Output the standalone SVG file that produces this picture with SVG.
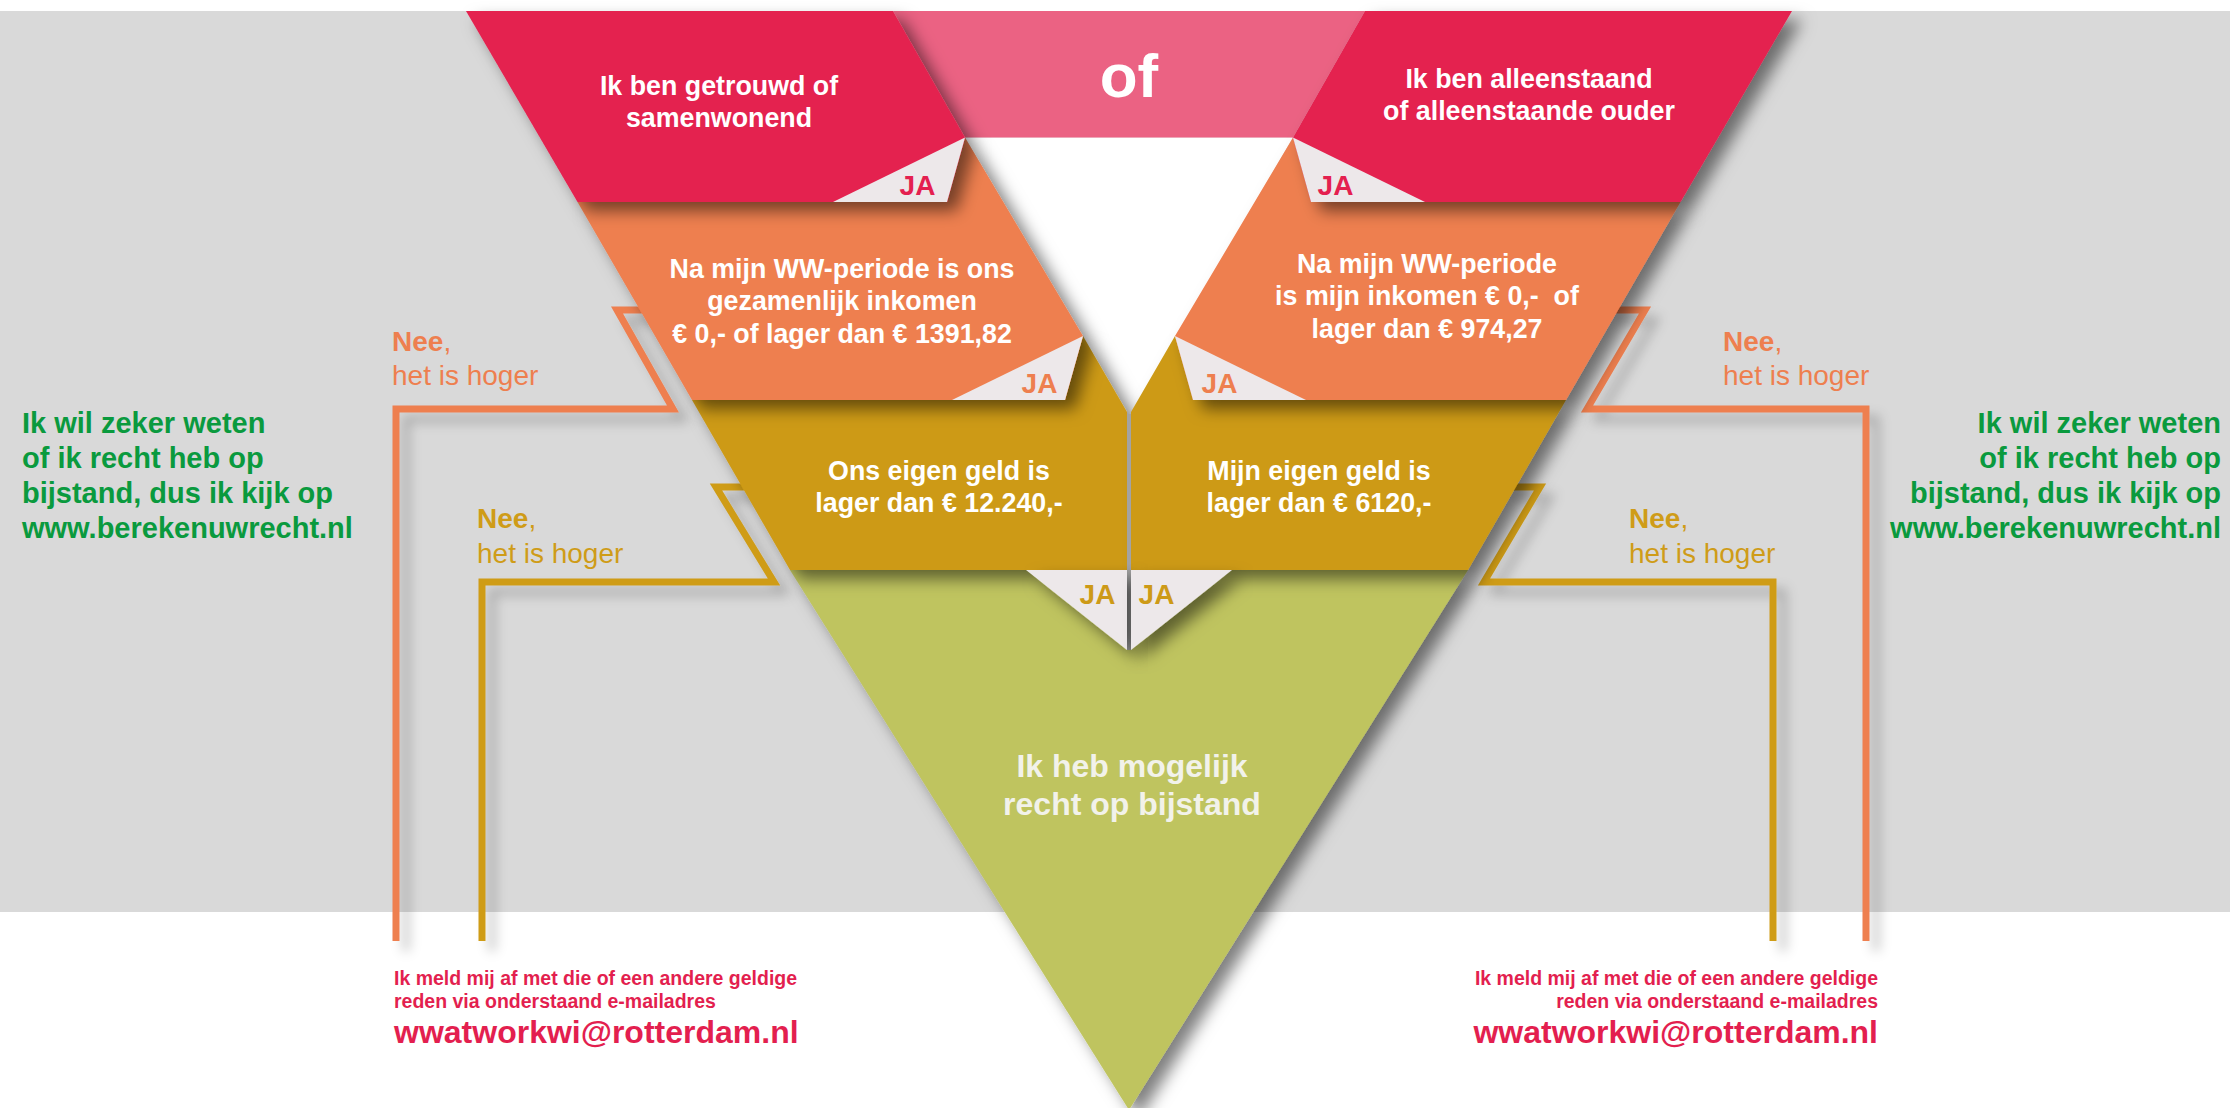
<svg xmlns="http://www.w3.org/2000/svg" width="2230" height="1108" viewBox="0 0 2230 1108">
<defs>
<filter id="bandShadow" x="-10%" y="-20%" width="130%" height="160%">
<feDropShadow dx="10" dy="9" stdDeviation="8" flood-color="#000" flood-opacity="0.5"/>
</filter>
<filter id="lineShadow" x="-30%" y="-10%" width="160%" height="130%">
<feDropShadow dx="10" dy="10" stdDeviation="6" flood-color="#000" flood-opacity="0.22"/>
</filter>
<style>
text{font-family:"Liberation Sans",Arial,Helvetica,sans-serif;}
.t{font-weight:bold;font-size:26.8px;fill:#ffffff;text-anchor:middle;white-space:pre;}
.ja{font-weight:bold;font-size:28px;text-anchor:middle;}
.nee{font-size:28px;}
.green{font-weight:bold;font-size:29px;fill:#0a9a3e;}
.small{font-weight:bold;font-size:19.5px;fill:#e31f4f;}
.mail{font-weight:bold;font-size:32px;fill:#e31f4f;}
.fold{fill:#ede8ea;}
.red{fill:#e4204f;}
.orange{fill:#ee7f4f;}
.mustard{fill:#cd9a17;}
.conn{fill:none;stroke-width:7;stroke-linejoin:miter;}
</style>
</defs>

<rect x="0" y="0" width="2230" height="1108" fill="#ffffff"/>
<rect x="0" y="11" width="2230" height="901" fill="#d9d9d9"/>

<g id="connectors" filter="url(#lineShadow)">
<polyline class="conn" stroke="#ee7f4f" points="648,310 617,310 673,409 396,409 396,941"/>
<polyline class="conn" stroke="#cf9c18" points="752,487 716,487 774,582 482,582 482,941"/>
<polyline class="conn" stroke="#ee7f4f" points="1610,310 1645,310 1587,409 1866,409 1866,941"/>
<polyline class="conn" stroke="#cf9c18" points="1505,487 1540,487 1484,582 1773,582 1773,941"/>
</g>

<polygon id="inner-white" points="965,137.5 1293,137.5 1129,418" fill="#ffffff"/>

<g id="node-of">
<polygon points="893,11 1365,11 1293,137.5 965,137.5" fill="#eb6283"/>
<text x="1129" y="97" style="font-weight:bold;font-size:62px;fill:#ffffff;text-anchor:middle;">of</text>
</g>

<g id="node-result">
<polygon points="790,570 1468,570 1129,1110" fill="#bfc45f" filter="url(#bandShadow)"/>
<text class="t" x="1132" y="777" style="font-size:32px;fill:#f2f2ea;">Ik heb mogelijk</text>
<text class="t" x="1132" y="815" style="font-size:32px;fill:#f2f2ea;">recht op bijstand</text>
</g>

<g id="node-eigen-geld-left">
<polygon class="mustard" points="692,400 1065,400 1083,336 1127,412 1127,570 790,570" filter="url(#bandShadow)"/>
</g>
<g id="node-eigen-geld-right">
<polygon class="mustard" points="1566,400 1193,400 1175,336 1131,412 1131,570 1468,570" filter="url(#bandShadow)"/>
</g>
<rect x="1127" y="414" width="4" height="236" fill="#a3a3a3"/>
<g id="ja-bottom">
<polygon class="fold" points="1026,570 1127,570 1127,650" filter="url(#bandShadow)"/>
<polygon class="fold" points="1131,570 1232,570 1131,650" filter="url(#bandShadow)"/>
<text class="ja" x="1097.5" y="604" fill="#cd9a17">JA</text>
<text class="ja" x="1156.5" y="604" fill="#cd9a17">JA</text>
</g>

<g id="node-inkomen-left">
<polygon class="orange" points="577.5,202 947,202 965,137.5 1083,336 1065,400 692,400" filter="url(#bandShadow)"/>
<polygon class="fold" points="952,400 1083,336 1065,400"/>
<text class="ja" x="1039.5" y="393" fill="#ee7f4f">JA</text>
</g>
<g id="node-inkomen-right">
<polygon class="orange" points="1680.5,202 1311,202 1293,137.5 1175,336 1193,400 1566,400" filter="url(#bandShadow)"/>
<polygon class="fold" points="1306,400 1175,336 1193,400"/>
<text class="ja" x="1219.5" y="393" fill="#ee7f4f">JA</text>
</g>

<g id="node-getrouwd">
<polygon class="red" points="466,11 893,11 965,137.5 947,202 577.5,202" filter="url(#bandShadow)"/>
<polygon class="fold" points="833,202 965,137.5 947,202"/>
<text class="ja" x="917.5" y="195" fill="#e4204f">JA</text>
</g>
<g id="node-alleenstaand">
<polygon class="red" points="1792,11 1365,11 1293,137.5 1311,202 1680.5,202" filter="url(#bandShadow)"/>
<polygon class="fold" points="1425,202 1293,137.5 1311,202"/>
<text class="ja" x="1335.5" y="195" fill="#e4204f">JA</text>
</g>

<g id="labels-bands">
<text class="t" x="719" y="95">Ik ben getrouwd of</text>
<text class="t" x="719" y="127">samenwonend</text>
<text class="t" x="1529" y="87.5">Ik ben alleenstaand</text>
<text class="t" x="1529" y="120">of alleenstaande ouder</text>
<text class="t" x="842" y="278">Na mijn WW-periode is ons</text>
<text class="t" x="842" y="310">gezamenlijk inkomen</text>
<text class="t" x="842" y="343">€ 0,- of lager dan € 1391,82</text>
<text class="t" x="1427" y="273">Na mijn WW-periode</text>
<text class="t" x="1427" y="305">is mijn inkomen € 0,-  of</text>
<text class="t" x="1427" y="337.5">lager dan € 974,27</text>
<text class="t" x="939" y="480">Ons eigen geld is</text>
<text class="t" x="939" y="512">lager dan € 12.240,-</text>
<text class="t" x="1319" y="480">Mijn eigen geld is</text>
<text class="t" x="1319" y="512">lager dan € 6120,-</text>
</g>

<g id="labels-nee">
<text class="nee" x="392" y="351" fill="#ee7f4f"><tspan font-weight="bold">Nee</tspan>,</text>
<text class="nee" x="392" y="385" fill="#ee7f4f">het is hoger</text>
<text class="nee" x="477" y="528" fill="#cf9c18"><tspan font-weight="bold">Nee</tspan>,</text>
<text class="nee" x="477" y="563" fill="#cf9c18">het is hoger</text>
<text class="nee" x="1723" y="351" fill="#ee7f4f"><tspan font-weight="bold">Nee</tspan>,</text>
<text class="nee" x="1723" y="385" fill="#ee7f4f">het is hoger</text>
<text class="nee" x="1629" y="528" fill="#cf9c18"><tspan font-weight="bold">Nee</tspan>,</text>
<text class="nee" x="1629" y="563" fill="#cf9c18">het is hoger</text>
</g>

<g id="node-check-left">
<text class="green" x="22" y="433">Ik wil zeker weten</text>
<text class="green" x="22" y="468">of ik recht heb op</text>
<text class="green" x="22" y="503">bijstand, dus ik kijk op</text>
<text class="green" x="22" y="538">www.berekenuwrecht.nl</text>
</g>
<g id="node-check-right" text-anchor="end">
<text class="green" x="2221" y="433">Ik wil zeker weten</text>
<text class="green" x="2221" y="468">of ik recht heb op</text>
<text class="green" x="2221" y="503">bijstand, dus ik kijk op</text>
<text class="green" x="2221" y="538">www.berekenuwrecht.nl</text>
</g>

<g id="node-afmelden-left">
<text class="small" x="394" y="985">Ik meld mij af met die of een andere geldige</text>
<text class="small" x="394" y="1008">reden via onderstaand e-mailadres</text>
<text class="mail" x="394" y="1043">wwatworkwi@rotterdam.nl</text>
</g>
<g id="node-afmelden-right" text-anchor="end">
<text class="small" x="1878" y="985">Ik meld mij af met die of een andere geldige</text>
<text class="small" x="1878" y="1008">reden via onderstaand e-mailadres</text>
<text class="mail" x="1878" y="1043">wwatworkwi@rotterdam.nl</text>
</g>
</svg>
